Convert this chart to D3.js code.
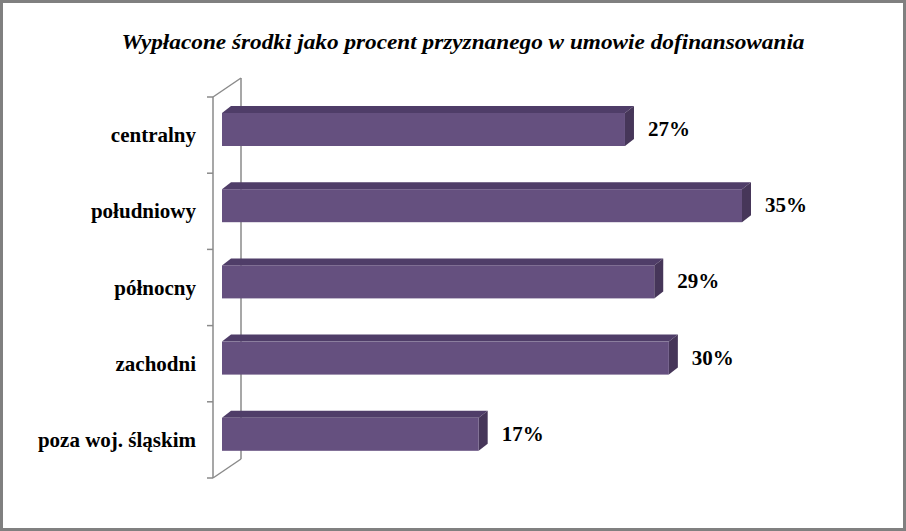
<!DOCTYPE html>
<html><head><meta charset="utf-8">
<script src="https://cdn.jsdelivr.net/npm/d3@7"></script>
<style>html,body{margin:0;padding:0;background:#fff;}</style>
</head><body>
<script>
const title = "Wypłacone środki jako procent przyznanego w umowie dofinansowania";
const categories = ["centralny", "południowy", "północny", "zachodni", "poza woj. śląskim"];
const values = [27, 35, 29, 30, 17];
const valueLabels = ["27%", "35%", "29%", "30%", "17%"];

const W = 906, H = 531;
const svg = d3.select("body").append("svg").attr("width", W).attr("height", H);

// outer border
svg.append("rect").attr("x", 1.5).attr("y", 1.5).attr("width", W - 3).attr("height", H - 3)
  .attr("fill", "#fff").attr("stroke", "#808080").attr("stroke-width", 3);

svg.append("text").attr("x", 463).attr("y", 49).attr("text-anchor", "middle")
  .attr("font-family", "Liberation Serif").attr("font-style", "italic").attr("font-weight", "bold")
  .attr("font-size", 21).attr("textLength", 683).attr("lengthAdjust", "spacingAndGlyphs")
  .text(title);

const axTop = 97, axBot = 478, axX = 213;
const wallDx = 28, wallDy = -19;
const y = d3.scaleBand().domain(categories).range([axTop, axBot]).paddingInner(0).paddingOuter(0);
const x = d3.scaleLinear().domain([0, 35]).range([230, 742]);
const barStartShift = -8; // 3D projection offset of bar base

const axisColor = "#8a8a8a";
const g = svg.append("g").attr("fill", "none").attr("stroke", axisColor).attr("stroke-width", 1.5);
g.append("line").attr("x1", axX + wallDx).attr("y1", axTop + wallDy).attr("x2", axX + wallDx).attr("y2", axBot + wallDy);
g.append("line").attr("x1", axX).attr("y1", axTop).attr("x2", axX + wallDx).attr("y2", axTop + wallDy);
g.append("line").attr("x1", axX).attr("y1", axBot).attr("x2", axX + wallDx).attr("y2", axBot + wallDy);
g.append("line").attr("x1", axX).attr("y1", axTop).attr("x2", axX).attr("y2", axBot);
const tickPos = categories.map(c => y(c)).concat([axBot]);
g.selectAll(".tk").data(tickPos).join("line").attr("x1", axX - 6).attr("x2", axX).attr("y1", d => d).attr("y2", d => d);

// bars
const bw = 33, dx = 9, dy = -7;
const bars = svg.append("g");
categories.forEach((c, i) => {
  const y0 = y(c) + 16;
  const x0 = x(0) + barStartShift, x1 = x(values[i]);
  bars.append("path").attr("d", `M${x0},${y0} L${x0 + dx},${y0 + dy} L${x1 + dx},${y0 + dy} L${x1},${y0} Z`).attr("fill", "#4f3d68");
  bars.append("path").attr("d", `M${x1},${y0} L${x1 + dx},${y0 + dy} L${x1 + dx},${y0 + dy + bw} L${x1},${y0 + bw} Z`).attr("fill", "#463659");
  bars.append("rect").attr("x", x0).attr("y", y0).attr("width", x1 - x0).attr("height", bw).attr("fill", "#65507f");
  svg.append("text").attr("x", x1 + 23).attr("y", y0 + 23).attr("font-family", "Liberation Serif")
    .attr("font-weight", "bold").attr("font-size", 21).attr("fill", "#000").text(valueLabels[i]);
});

// category labels
svg.append("g").selectAll("text").data(categories).join("text")
  .attr("x", 196).attr("y", d => y(d) + y.bandwidth() / 2 + 7)
  .attr("text-anchor", "end").attr("font-family", "Liberation Serif").attr("font-weight", "bold")
  .attr("font-size", 21).attr("fill", "#000").text(d => d);
</script>
</body></html>
